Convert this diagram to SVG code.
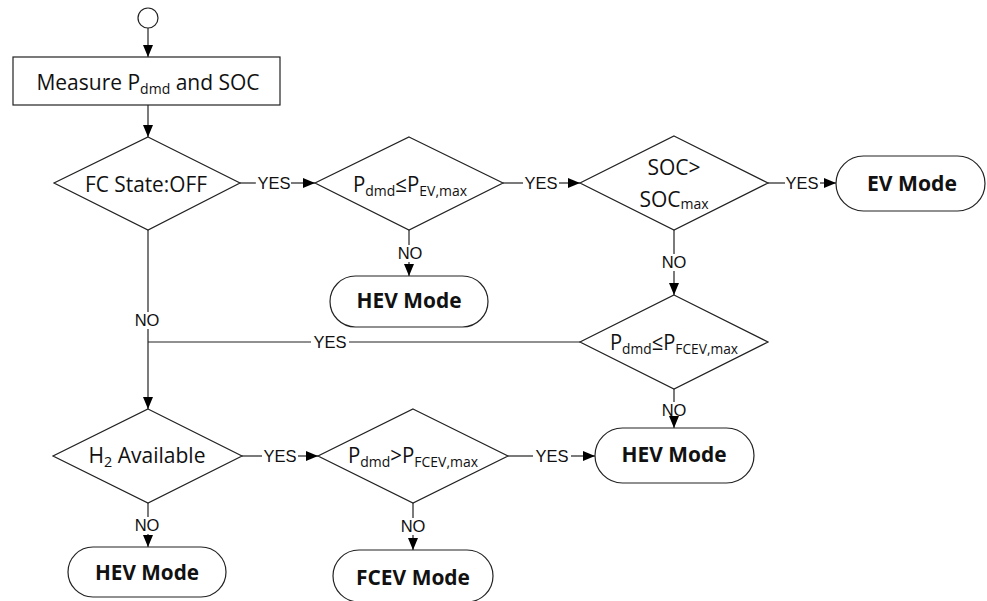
<svg xmlns="http://www.w3.org/2000/svg" width="987" height="601" viewBox="0 0 987 601">
<defs>
<marker id="ah" markerWidth="12" markerHeight="10" refX="12" refY="5" orient="auto" markerUnits="userSpaceOnUse">
<path d="M0,0 L12,5 L0,10 z" fill="#000"/>
</marker>
<style>
.shape{fill:#fff;stroke:#222;stroke-width:1.2}
.conn line{stroke:#222;stroke-width:1.2;fill:none}
.t{font-family:"Open Sans","Noto Sans",sans-serif;font-size:22px;fill:#111;text-anchor:middle}
.t2{font-size:21px}
.b{font-weight:bold}
.sub{font-size:15px}
.sub2{font-size:14px}
.lbl{font-family:"Liberation Sans",Arial,sans-serif;font-size:16.5px;fill:#111;text-anchor:middle}
</style>
</defs>
<rect width="987" height="601" fill="#fff"/>

<g class="conn">
<line x1="148" y1="28" x2="148" y2="57" marker-end="url(#ah)"/>
<line x1="148" y1="105" x2="148" y2="137" marker-end="url(#ah)"/>
<line x1="240" y1="183" x2="256" y2="183"/>
<line x1="291" y1="183" x2="315" y2="183" marker-end="url(#ah)"/>
<line x1="503" y1="183" x2="523" y2="183"/>
<line x1="559" y1="183" x2="580" y2="183" marker-end="url(#ah)"/>
<line x1="768" y1="183" x2="785" y2="183"/>
<line x1="820" y1="183" x2="836" y2="183" marker-end="url(#ah)"/>
<line x1="409" y1="230" x2="409" y2="245"/>
<line x1="409" y1="262" x2="409" y2="276" marker-end="url(#ah)"/>
<line x1="674" y1="230" x2="674" y2="254"/>
<line x1="674" y1="271" x2="674" y2="295" marker-end="url(#ah)"/>
<line x1="674" y1="389" x2="674" y2="402"/>
<line x1="674" y1="419" x2="674" y2="428" marker-end="url(#ah)"/>
<line x1="148" y1="230" x2="148" y2="312"/>
<line x1="148" y1="329" x2="148" y2="409" marker-end="url(#ah)"/>
<line x1="580" y1="342" x2="349" y2="342"/>
<line x1="311" y1="342" x2="148" y2="342"/>
<line x1="242" y1="456" x2="262" y2="456"/>
<line x1="298" y1="456" x2="318" y2="456" marker-end="url(#ah)"/>
<line x1="508" y1="456" x2="533" y2="456"/>
<line x1="571" y1="456" x2="595" y2="456" marker-end="url(#ah)"/>
<line x1="148" y1="503" x2="148" y2="517"/>
<line x1="148" y1="534" x2="148" y2="547" marker-end="url(#ah)"/>
<line x1="413" y1="503" x2="413" y2="518"/>
<line x1="413" y1="535" x2="413" y2="550" marker-end="url(#ah)"/>
<text class="lbl" x="274" y="189">YES</text>
<text class="lbl" x="541" y="189">YES</text>
<text class="lbl" x="802" y="189">YES</text>
<text class="lbl" x="410" y="259">NO</text>
<text class="lbl" x="674" y="268">NO</text>
<text class="lbl" x="674" y="416">NO</text>
<text class="lbl" x="147" y="326">NO</text>
<text class="lbl" x="330" y="348">YES</text>
<text class="lbl" x="280" y="462">YES</text>
<text class="lbl" x="552" y="462">YES</text>
<text class="lbl" x="147" y="531">NO</text>
<text class="lbl" x="413" y="532">NO</text>
</g>

<g id="start"><circle class="shape" cx="148" cy="18" r="10"/></g>

<g id="measure">
<rect class="shape" x="13" y="57" width="267" height="48"/>
<text class="t t2" x="148" y="90">Measure P<tspan class="sub2" dy="4">dmd</tspan><tspan dy="-4"> and SOC</tspan></text>
</g>

<g id="fcstate">
<polygon class="shape" points="148,137 240,183 148,230 54,183"/>
<text class="t" x="146" y="192" textLength="122" lengthAdjust="spacingAndGlyphs">FC State:OFF</text>
</g>

<g id="pev">
<polygon class="shape" points="409,137 503,183 409,230 315,183"/>
<text class="t" x="410" y="192" textLength="114" lengthAdjust="spacingAndGlyphs">P<tspan class="sub" dy="4">dmd</tspan><tspan dy="-4">≤P</tspan><tspan class="sub" dy="4">EV,max</tspan></text>
</g>

<g id="soc">
<polygon class="shape" points="674,136 768,183 674,230 580,183"/>
<text class="t t2" x="674" y="175">SOC&gt;</text>
<text class="t t2" x="674" y="207">SOC<tspan class="sub2" dy="2">max</tspan></text>
</g>

<g id="evmode">
<rect class="shape" x="836" y="156" width="149" height="55" rx="27.5"/>
<text class="t b" x="912" y="191" textLength="90" lengthAdjust="spacingAndGlyphs">EV Mode</text>
</g>

<g id="hev1">
<rect class="shape" x="330" y="276" width="158" height="51" rx="25.5"/>
<text class="t b" x="409" y="308" textLength="105" lengthAdjust="spacingAndGlyphs">HEV Mode</text>
</g>

<g id="pfcev1">
<polygon class="shape" points="674,295 768,342 674,389 580,342"/>
<text class="t" x="674" y="350" textLength="128" lengthAdjust="spacingAndGlyphs">P<tspan class="sub" dy="4">dmd</tspan><tspan dy="-4">≤P</tspan><tspan class="sub" dy="4">FCEV,max</tspan></text>
</g>

<g id="hev2">
<rect class="shape" x="595" y="428" width="159" height="55" rx="27.5"/>
<text class="t b" x="674" y="462" textLength="105" lengthAdjust="spacingAndGlyphs">HEV Mode</text>
</g>

<g id="h2">
<polygon class="shape" points="148,409 242,456 148,503 53,456"/>
<text class="t" x="147" y="463" textLength="117" lengthAdjust="spacingAndGlyphs">H<tspan class="sub" dy="4">2</tspan><tspan dy="-4"> Available</tspan></text>
</g>

<g id="pfcev2">
<polygon class="shape" points="413,409 508,456 413,503 318,456"/>
<text class="t" x="413" y="463" textLength="130" lengthAdjust="spacingAndGlyphs">P<tspan class="sub" dy="4">dmd</tspan><tspan dy="-4">&gt;P</tspan><tspan class="sub" dy="4">FCEV,max</tspan></text>
</g>

<g id="hev3">
<rect class="shape" x="68" y="547" width="158" height="50" rx="25"/>
<text class="t b" x="147" y="580" textLength="104" lengthAdjust="spacingAndGlyphs">HEV Mode</text>
</g>

<g id="fcev">
<rect class="shape" x="333" y="550" width="160" height="52" rx="26"/>
<text class="t b" x="413" y="585" textLength="114" lengthAdjust="spacingAndGlyphs">FCEV Mode</text>
</g>
</svg>
